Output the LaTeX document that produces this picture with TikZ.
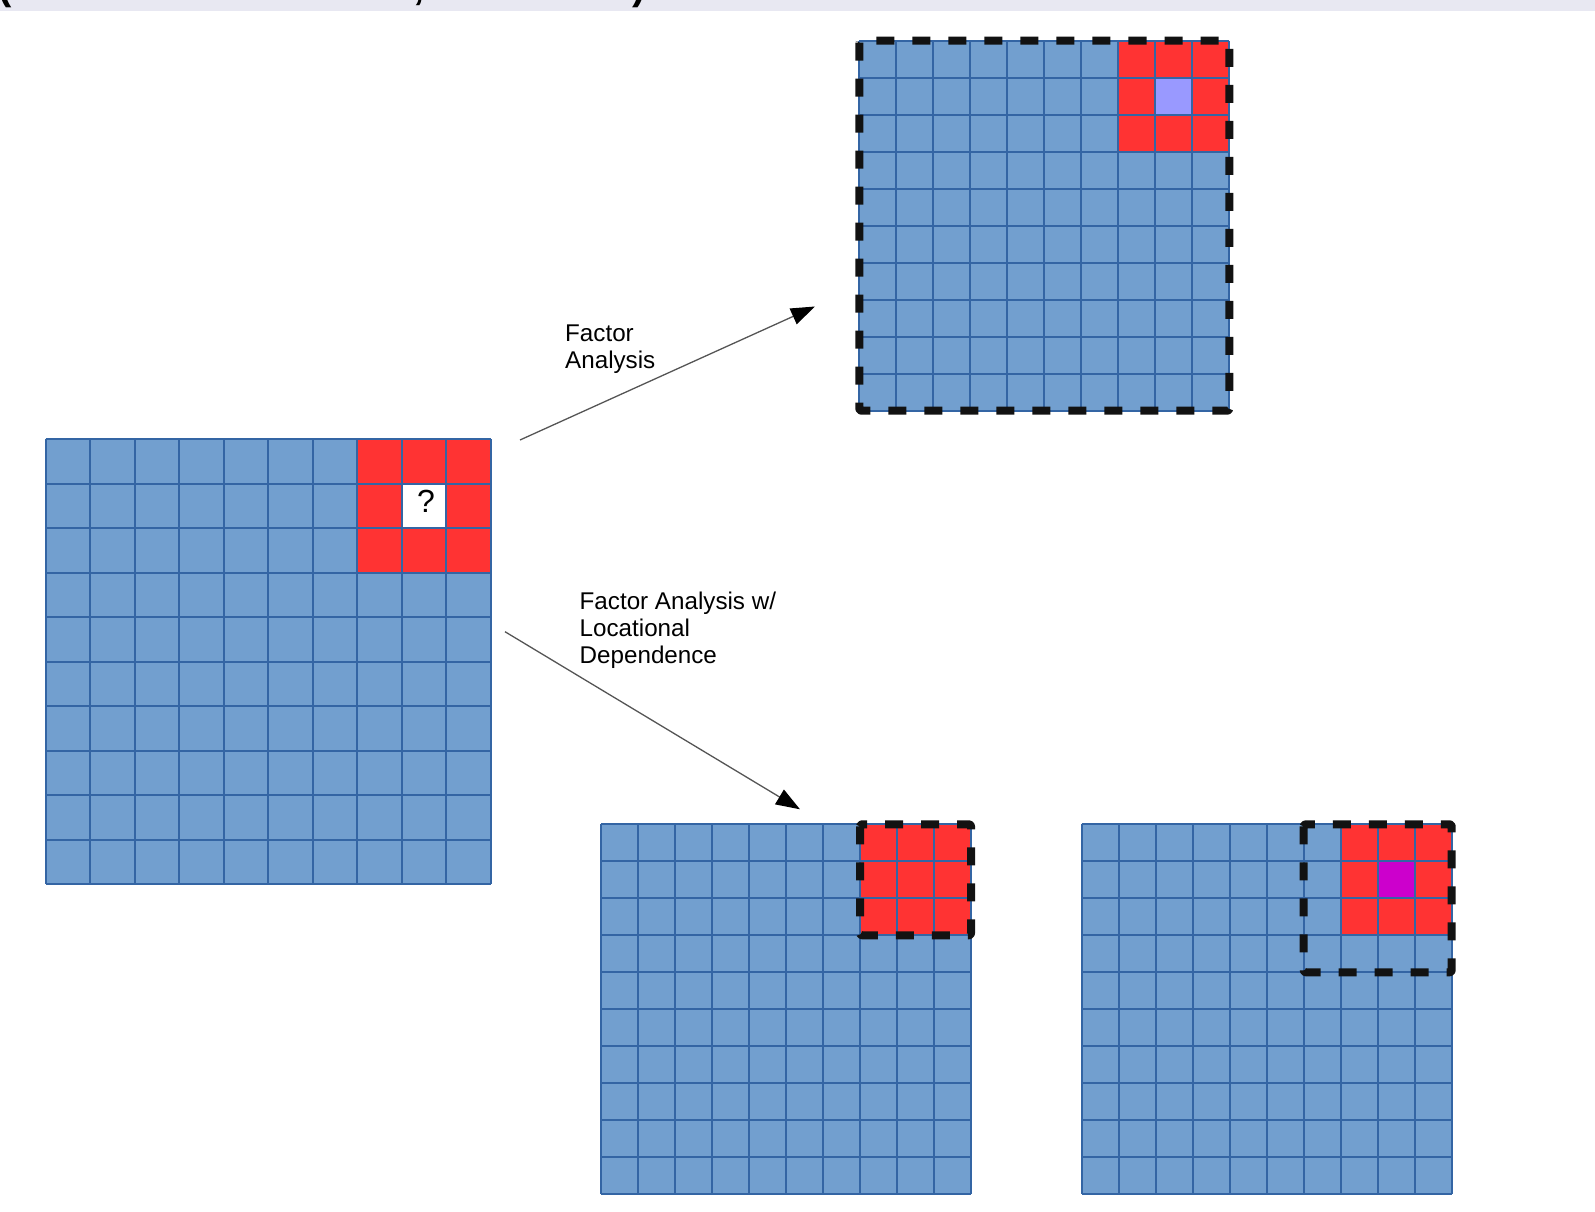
\documentclass[tikz,border=0pt]{standalone}
\usepackage{fontspec}
\setmainfont{Liberation Sans}
\usetikzlibrary{arrows.meta}
\definecolor{gblue}{HTML}{729FCF}
\definecolor{gline}{HTML}{3465A4}
\definecolor{gred}{HTML}{FF3333}
\definecolor{glav}{HTML}{9999FF}
\definecolor{gmag}{HTML}{CC00CC}
\definecolor{band}{HTML}{E8E8F2}
\definecolor{arrowgray}{HTML}{555555}
\tikzset{
  gridline/.style={draw=gline,line width=1.8pt},
  dashbox/.style={draw=black!93,line width=8pt,dash pattern=on 18pt off 18pt,line join=round,rounded corners=2pt},
  conn/.style={draw=arrowgray,line width=1.3pt,-{Triangle[length=24pt,width=17pt,fill=black,color=black]}},
  lbl/.style={font=\fontsize{24.2pt}{27pt}\selectfont,align=left,inner sep=0pt,anchor=base west},
  titlefrag/.style={font=\fontsize{40pt}{44pt}\selectfont\bfseries,inner sep=0pt,anchor=base}
}
\newcommand\cellgrid[4]{%
\begin{scope}[shift={(#1pt,-#2pt)},x=#3pt,y=-#3pt]
 \fill[gblue] (0,0) rectangle (10,10);
 \fill[gred] (7,0) rectangle (10,3);
 \fill[#4] (8,1) rectangle (9,2);
 \foreach \i in {0,...,10}{\draw[gridline] (\i,0)--(\i,10); \draw[gridline] (0,\i)--(10,\i);}
\end{scope}}
\begin{document}
\begin{tikzpicture}[x=1pt,y=-1pt]
\useasboundingbox (0,0) rectangle (1595,1212);
% top band with clipped title fragments (cut off in the reference too)
\fill[band] (0,0) rectangle (1595,11);
\begin{scope}
\clip (0,0) rectangle (1595,11);
\node[titlefrag] (t1) at (5,0) {(};
\node[titlefrag] (t2) at (419,0) {,};
\node[titlefrag] (t3) at (639,0) {)};
\end{scope}
% grids
\cellgrid{45.7}{439.3}{44.5}{white}
\cellgrid{859.3}{40.7}{37.0}{glav}
\cellgrid{601}{824.3}{37.0}{gred}
\cellgrid{1081.7}{824.3}{37.0}{gmag}
\node[font=\fontsize{32pt}{36pt}\selectfont,inner sep=0pt,anchor=base] (q) at (426,512.7) {?};
% dashed boxes
\draw[dashbox] (859.3,40.7) rectangle (1229.3,410.7);
\draw[dashbox] (860,824.3) rectangle (971,935.3);
\draw[dashbox] (1303.7,824.3) rectangle (1451.7,972.3);
% connectors
\coordinate (a1s) at (520,440);
\coordinate (a1e) at (815,306.5);
\coordinate (a2s) at (505,631.7);
\coordinate (a2e) at (800,809.3);
\draw[conn] (a1s) -- (a1e);
\draw[conn] (a2s) -- (a2e);
% labels (base anchor = last line's baseline)
\node[lbl] (l1) at (565,368.3) {Factor\\Analysis};
\node[lbl] (l2) at (579.5,663.7) {Factor Analysis w/\\Locational\\Dependence};
\end{tikzpicture}
\end{document}
